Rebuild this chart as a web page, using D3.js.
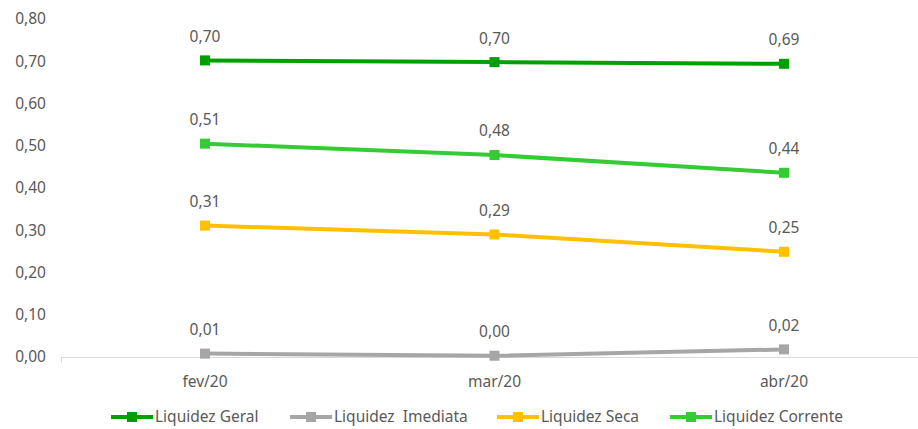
<!DOCTYPE html>
<html><head><meta charset="utf-8">
<script src="https://cdn.jsdelivr.net/npm/d3@7"></script>
<style>body{margin:0;background:#fff}svg{display:block}</style>
</head><body>
<script>
const categories = ["fev/20","mar/20","abr/20"];
const seriesNames = ["Liquidez Geral","Liquidez  Imediata","Liquidez Seca","Liquidez Corrente"];
const geral = [0.702, 0.698, 0.694];
const imediata = [0.008, 0.003, 0.018];
const seca = [0.311, 0.290, 0.249];
const corrente = [0.505, 0.478, 0.436];
const yTicks = [0,0.1,0.2,0.3,0.4,0.5,0.6,0.7,0.8];
const colors = ["#00A000","#A6A6A6","#FFC000","#33CC33"];

const series = [geral, imediata, seca, corrente].map((v,i)=>({name:seriesNames[i], values:v, color:colors[i]}));
const W=918,H=429;
const svg=d3.select("body").append("svg").attr("width",W).attr("height",H);
const font="'Noto Sans', sans-serif";
const fs=15.5;
const x=d3.scalePoint().domain(categories).range([205,784]);
const y=d3.scaleLinear().domain([0,0.8]).range([357,19]);
const fmt=v=>v.toFixed(2).replace(".",",");

svg.append("g").selectAll("text").data(yTicks).join("text")
 .attr("x",46).attr("y",d=>y(d)).attr("dy","0.35em").attr("text-anchor","end")
 .attr("font-family",font).attr("font-size",fs).attr("fill","#595959").text(fmt);

svg.append("line").attr("x1",61).attr("x2",918).attr("y1",357.5).attr("y2",357.5).attr("stroke","#D9D9D9").attr("stroke-width",1.2);
svg.append("line").attr("x1",61.5).attr("x2",61.5).attr("y1",357).attr("y2",362).attr("stroke","#D9D9D9");
svg.append("g").selectAll("text").data(categories).join("text")
 .attr("x",d=>x(d)).attr("y",382).attr("dy","0.35em").attr("text-anchor","middle")
 .attr("font-family",font).attr("font-size",fs).attr("fill","#595959").text(d=>d);

const line=d3.line().x((d,i)=>x(categories[i])).y(d=>y(d));
series.forEach(s=>{
  const g=svg.append("g");
  g.append("path").attr("d",line(s.values)).attr("fill","none").attr("stroke",s.color).attr("stroke-width",4);
  g.selectAll("rect").data(s.values).join("rect")
   .attr("x",(d,i)=>x(categories[i])-5).attr("y",d=>y(d)-5).attr("width",10).attr("height",10).attr("fill",s.color);
  g.selectAll("text").data(s.values).join("text")
   .attr("x",(d,i)=>x(categories[i])).attr("y",d=>y(d)-24).attr("dy","0.35em").attr("text-anchor","middle")
   .attr("font-family",font).attr("font-size",fs).attr("fill","#595959").text(fmt);
});

const legX=[111,290,497,670];
const lg=svg.append("g").selectAll("g").data(series).join("g").attr("transform",(d,i)=>`translate(${legX[i]},417)`);
lg.append("line").attr("x1",0).attr("x2",42).attr("stroke",d=>d.color).attr("stroke-width",4);
lg.append("rect").attr("x",16).attr("y",-5).attr("width",10).attr("height",10).attr("fill",d=>d.color);
lg.append("text").attr("x",44).attr("dy","0.35em").attr("font-family",font).attr("font-size",fs).attr("fill","#595959")
  .style("white-space","pre").text(d=>d.name);
</script>
</body></html>
